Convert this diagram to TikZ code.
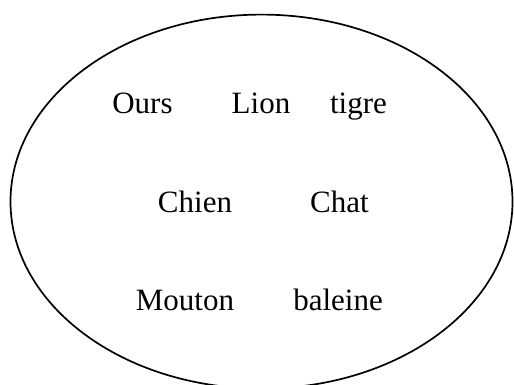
\documentclass[tikz,border=0pt]{standalone}
\usepackage{fontspec}
\setmainfont{Liberation Serif}
\begin{document}
\begin{tikzpicture}[x=1pt,y=-1pt,
  word/.style={anchor=base,inner sep=0pt,font=\fontsize{31}{36}\selectfont},
  setline/.style={draw=black,line width=1.7pt}]
\useasboundingbox (0,0) rectangle (514,385);
\begin{scope}
\clip (0,0) rectangle (514,385);
\draw[setline] (261.5,201.6) ellipse [x radius=251, y radius=187];
\end{scope}
\node[word] (ours) at (142.5,114) {Ours};
\node[word] (lion) at (261,114) {Lion};
\node[word] (tigre) at (358.5,114) {tigre};
\node[word] (chien) at (195,212) {Chien};
\node[word] (chat) at (339.5,212) {Chat};
\node[word] (mouton) at (185,310) {Mouton};
\node[word] (baleine) at (338,310) {baleine};
\end{tikzpicture}
\end{document}
